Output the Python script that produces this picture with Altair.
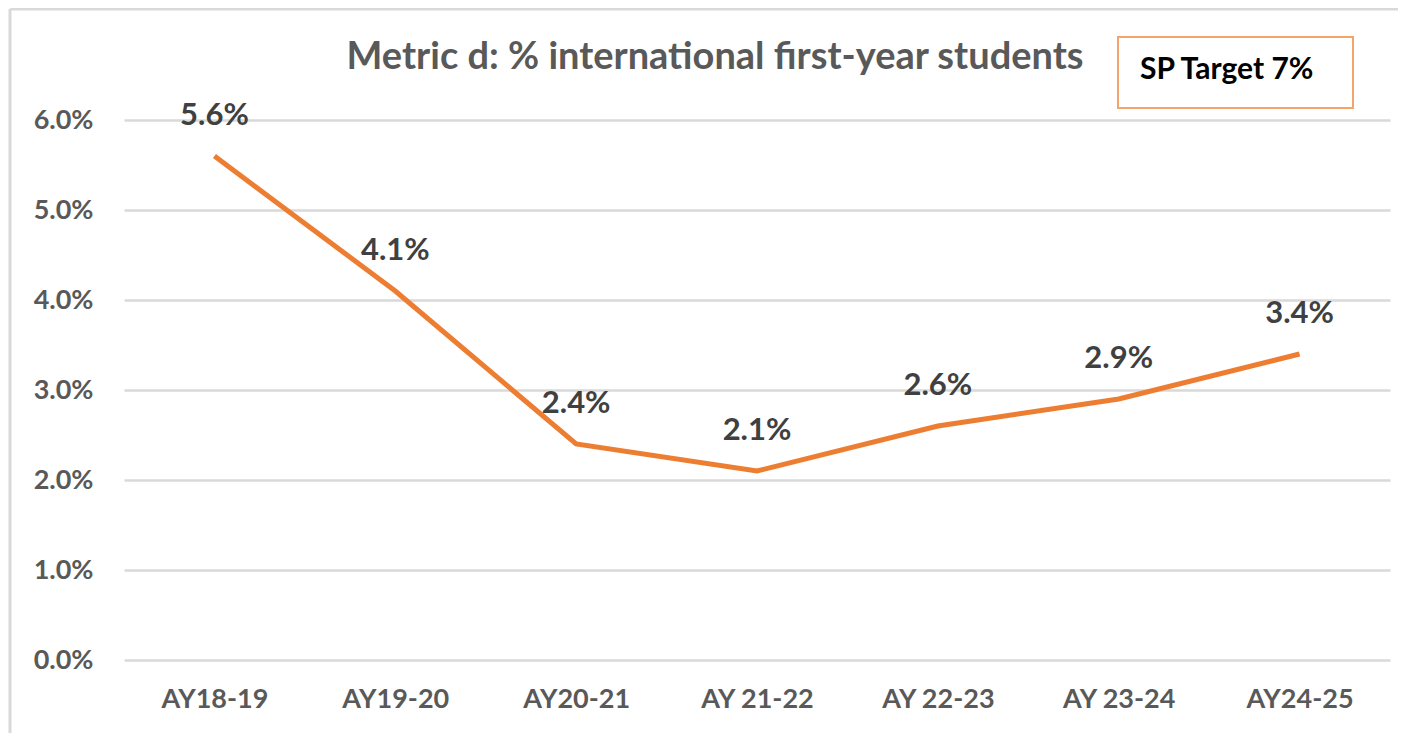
import altair as alt
import pandas as pd

years = ["AY18-19", "AY19-20", "AY20-21", "AY 21-22", "AY 22-23", "AY 23-24", "AY24-25"]
values = [0.056, 0.041, 0.024, 0.021, 0.026, 0.029, 0.034]
title_text = ["Metric d: % international first-year students"]
box_text = ["SP Target 7%"]

FONT = "Lato"
df = pd.DataFrame({"year": years, "value": values})

x_enc = alt.X("year:N", sort=years, title=None,
              scale=alt.Scale(type="point", padding=0.5),
              axis=alt.Axis(labelAngle=0, labelFont=FONT, labelFontSize=27, labelFontWeight="bold",
                            labelColor="#595959", labelPadding=26, ticks=False, domain=False, grid=False))
y_enc = alt.Y("value:Q", title=None,
              scale=alt.Scale(domain=[0, 0.06], nice=False),
              axis=alt.Axis(format=".1%", values=[0, 0.01, 0.02, 0.03, 0.04, 0.05, 0.06],
                            labelFont=FONT, labelFontSize=27, labelFontWeight="bold",
                            labelColor="#595959", labelPadding=31, ticks=False, domain=False,
                            grid=True, gridColor="#D9D9D9", gridWidth=2.5))

base = alt.Chart(df)
line = base.mark_line(color="#ED7D31", strokeWidth=5).encode(x=x_enc, y=y_enc)
labels = base.mark_text(font=FONT, fontSize=31, fontWeight="bold", color="#404040",
                        baseline="middle", dy=-40).encode(
    x=alt.X("year:N", sort=years), y="value:Q", text=alt.Text("value:Q", format=".1%"))

tdf = pd.DataFrame({"t": title_text})
title = alt.Chart(tdf).mark_text(font=FONT, fontSize=38, fontWeight="bold", color="#595959",
                                 align="center", baseline="middle").encode(
    x=alt.value(591), y=alt.value(-62), text="t:N")

bdf = pd.DataFrame({"t": box_text})
box = alt.Chart(bdf).mark_rect(fill="white", stroke="#F4A46A", strokeWidth=2).encode(
    x=alt.value(994), x2=alt.value(1229), y=alt.value(-83), y2=alt.value(-12))
boxtext = alt.Chart(bdf).mark_text(font=FONT, fontSize=30, fontWeight="bold", color="#000000",
                                   align="left", baseline="middle").encode(
    x=alt.value(1016), y=alt.value(-50), text="t:N")

border_top = alt.Chart(bdf).mark_rule(color="#D9D9D9", strokeWidth=3).encode(
    x=alt.value(-114), x2=alt.value(1274), y=alt.value(-111))
border_left = alt.Chart(bdf).mark_rule(color="#D9D9D9", strokeWidth=3).encode(
    x=alt.value(-114), y=alt.value(-111), y2=alt.value(620))

chart = alt.layer(border_top, border_left, line, labels, title, box, boxtext).properties(
    width=1266, height=540,
    background="white",
    autosize=alt.AutoSizeParams(type="none"),
    padding={"left": 116, "top": 112, "right": 8, "bottom": 100},
).configure_view(stroke=None)

chart.save("out.html", embed_options={"renderer": "svg", "actions": False})
